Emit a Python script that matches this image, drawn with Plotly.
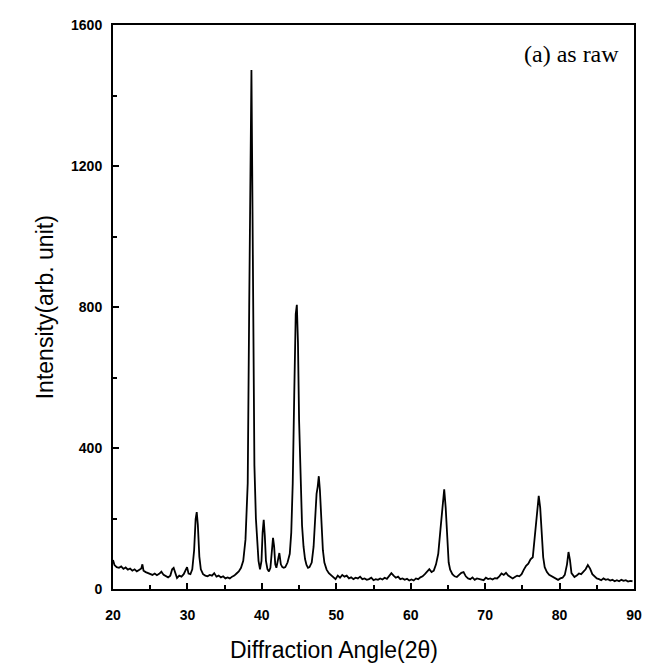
import plotly.graph_objects as go

# Diffraction angle (2θ) and intensity
two_theta = [
    20.0, 20.2, 20.5, 20.8, 21.1, 21.4, 21.7, 22.0, 22.3, 22.6, 22.9, 23.2, 23.5, 23.8, 23.95, 24.1,
    24.4, 24.7, 25.0, 25.3, 25.6, 25.9, 26.2, 26.5, 26.8, 27.1, 27.4, 27.7, 27.95, 28.15, 28.35,
    28.6, 28.9, 29.2, 29.5, 29.75, 29.95, 30.15, 30.4, 30.65, 30.9, 31.1, 31.25, 31.4, 31.6, 31.8,
    32.1, 32.4, 32.7, 33.0, 33.3, 33.6, 33.9, 34.2, 34.5, 34.8, 35.1, 35.4, 35.7, 36.0, 36.3,
    36.6, 36.9, 37.2, 37.5, 37.8, 38.1, 38.3, 38.5, 38.6, 38.7, 38.85, 39.0, 39.2, 39.4, 39.55,
    39.75, 39.95, 40.1, 40.25, 40.4, 40.55, 40.75, 40.95, 41.15, 41.35, 41.5, 41.65, 41.8, 41.95, 42.15,
    42.35, 42.55, 42.75, 42.95, 43.15, 43.45, 43.75, 43.95, 44.15, 44.35, 44.55, 44.7, 44.85, 45.0, 45.2,
    45.4, 45.6, 45.8, 46.0, 46.2, 46.4, 46.7, 46.95, 47.15, 47.35, 47.5, 47.65, 47.8, 48.0, 48.2,
    48.4, 48.7, 49.0, 49.3, 49.6, 49.9, 50.2, 50.5, 50.8, 51.1, 51.4, 51.7, 52.0, 52.3, 52.6,
    52.9, 53.2, 53.5, 53.8, 54.1, 54.4, 54.7, 55.0, 55.3, 55.6, 55.9, 56.2, 56.5, 56.8, 57.1,
    57.4, 57.7, 58.0, 58.3, 58.6, 58.9, 59.2, 59.5, 59.8, 60.1, 60.4, 60.7, 61.0, 61.3, 61.6,
    61.9, 62.2, 62.5, 62.8, 63.1, 63.4, 63.7, 64.0, 64.3, 64.5, 64.7, 64.9, 65.1, 65.3, 65.6,
    65.9, 66.2, 66.5, 66.8, 67.1, 67.4, 67.7, 68.0, 68.3, 68.6, 68.9, 69.2, 69.5, 69.8, 70.1,
    70.4, 70.7, 71.0, 71.3, 71.6, 71.9, 72.2, 72.5, 72.8, 73.1, 73.4, 73.7, 74.0, 74.3, 74.6,
    74.9, 75.2, 75.5, 75.8, 76.1, 76.4, 76.7, 77.0, 77.2, 77.4, 77.6, 77.8, 78.0, 78.3, 78.6,
    78.9, 79.2, 79.5, 79.8, 80.1, 80.4, 80.7, 81.0, 81.2, 81.4, 81.6, 81.8, 82.0, 82.3, 82.6,
    82.9, 83.2, 83.5, 83.8, 84.1, 84.4, 84.7, 85.0, 85.3, 85.6, 85.9, 86.2, 86.5, 86.8, 87.1,
    87.4, 87.7, 88.0, 88.3, 88.6, 88.9, 89.2, 89.5, 89.8, 90.0,
]
intensity = [
    82, 68, 62, 60, 64, 57, 61, 55, 58, 52, 56, 50, 54, 58, 70, 52,
    48, 45, 42, 40, 44, 39, 43, 49, 40, 36, 33, 38, 56, 60, 44,
    31, 38, 35, 42, 56, 62, 44, 42, 56, 110, 198, 218, 182, 92, 56,
    42, 38, 36, 40, 38, 45, 35, 38, 33, 36, 30, 33, 30, 35, 38,
    44, 50, 60, 80, 140, 300, 800, 1300, 1472, 1200, 700, 350, 200, 128, 80,
    56, 80, 160, 196, 150, 80, 56, 50, 60, 110, 145, 120, 70, 60, 86,
    102, 70, 62, 60, 62, 75, 100, 160, 300, 550, 780, 806, 700, 480, 300,
    180, 120, 85, 68, 60, 62, 75, 120, 200, 270, 290, 320, 280, 180, 110,
    75, 55, 45, 40, 35, 28, 38, 32, 40, 35, 38, 30, 33, 28, 32,
    30, 35, 28, 30, 26, 28, 32, 25, 28, 26, 30, 27, 32, 29, 36,
    45, 38, 32, 35, 28, 30, 26, 29, 24, 27, 24, 30, 28, 33, 36,
    42, 50, 56, 48, 52, 70, 100, 170, 250, 283, 230, 130, 75, 55,
    42, 36, 34, 40, 46, 48, 36, 30, 28, 33, 26, 30, 28, 27, 25,
    32, 28, 30, 27, 31, 30, 36, 44, 40, 46, 38, 35, 30, 34, 38,
    36, 42, 55, 66, 72, 84, 90, 150, 215, 264, 230, 160, 90, 62, 48,
    40, 36, 32, 30, 26, 30, 32, 40, 70, 105, 82, 45, 40, 34, 38,
    44, 42, 48, 56, 68, 58, 42, 35, 30, 28, 25, 30, 26, 28, 24,
    26, 22, 25, 22, 26, 23, 25, 21, 23, 22,
]

x_ticks = [20, 30, 40, 50, 60, 70, 80, 90]
y_ticks = [0, 400, 800, 1200, 1600]

fig = go.Figure()
fig.add_trace(go.Scatter(
    x=two_theta, y=intensity, mode="lines",
    line=dict(color="black", width=1.8), showlegend=False,
))

axis_common = dict(
    showline=True, linecolor="black", linewidth=2, mirror=True,
    ticks="inside", ticklen=6, tickwidth=2, tickcolor="black",
    showgrid=False, zeroline=False,
    tickfont=dict(family="Liberation Sans, Arial", size=14, color="black", weight="bold"),
)

fig.update_xaxes(
    range=[20, 90], tickvals=x_ticks, ticktext=[str(v) for v in x_ticks],
    ticklabelstandoff=12,
    minor=dict(ticks="inside", ticklen=4, tickwidth=1.5, tickcolor="black", dtick=5, tick0=20),
    **axis_common,
)
fig.update_yaxes(
    range=[0, 1600], tickvals=y_ticks, ticktext=[str(v) for v in y_ticks],
    ticklabelstandoff=6,
    minor=dict(ticks="inside", ticklen=4, tickwidth=1.5, tickcolor="black", dtick=200, tick0=0),
    **axis_common,
)

fig.add_annotation(
    text="Diffraction Angle(2θ)", xref="paper", yref="paper", x=0.425, y=-0.108,
    xanchor="center", yanchor="middle", showarrow=False,
    font=dict(family="Liberation Sans, Arial", size=23, color="black"),
)
fig.add_annotation(
    text="Intensity(arb. unit)", xref="paper", yref="paper", x=-0.13, y=0.5,
    xanchor="center", yanchor="middle", textangle=-90, showarrow=False,
    font=dict(family="Liberation Sans, Arial", size=23, color="black"),
)
fig.add_annotation(
    text="(a) as raw", xref="paper", yref="paper", x=0.975, y=0.975,
    xanchor="right", yanchor="top", showarrow=False,
    font=dict(family="Liberation Serif, Times New Roman", size=24, color="black"),
)

fig.update_layout(
    width=654, height=672,
    margin=dict(l=113, r=20, t=25, b=83),
    paper_bgcolor="white", plot_bgcolor="white",
)

fig.write_html("out.html")
